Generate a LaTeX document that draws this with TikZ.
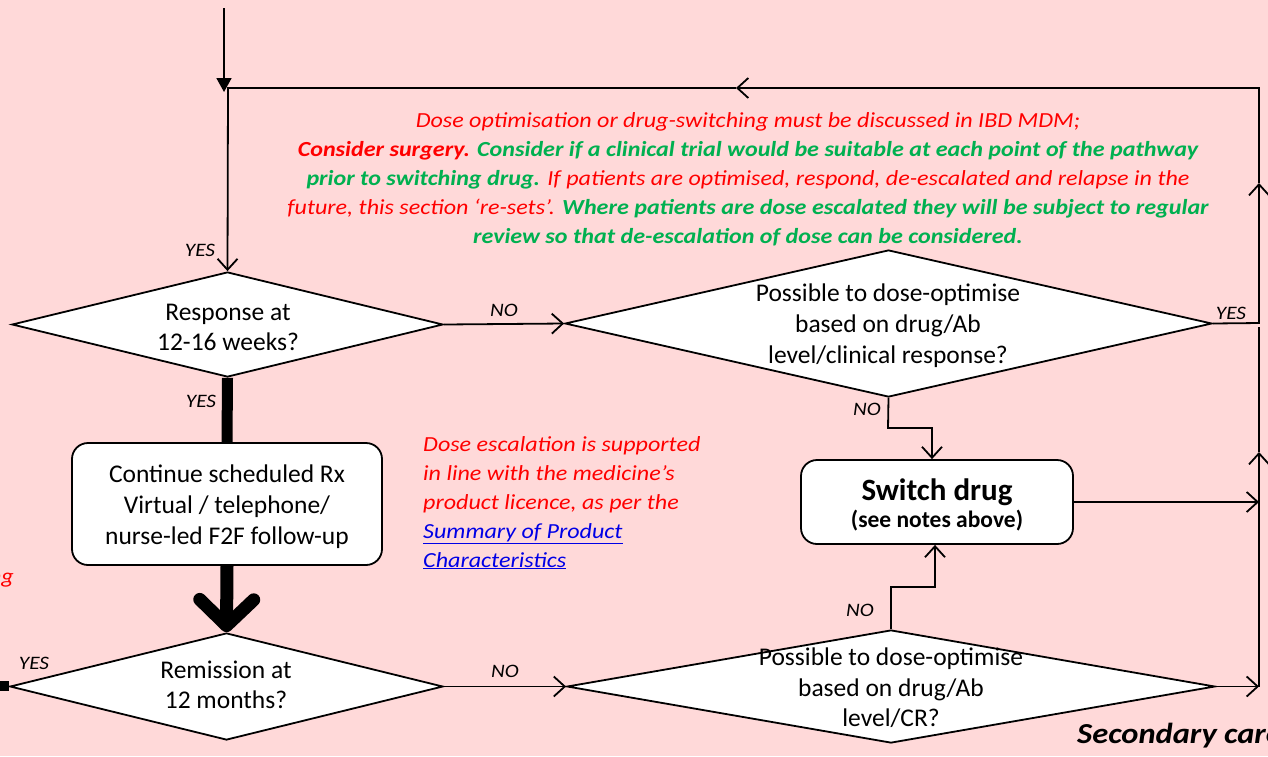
\documentclass[tikz,border=0pt]{standalone}
\usepackage{fontspec}
\setmainfont{Carlito}
\newfontfamily\widefont{Carlito}[FakeStretch=1.12]
\usetikzlibrary{shapes.geometric,arrows.meta}
\definecolor{bgpink}{RGB}{255,217,217}
\definecolor{notered}{RGB}{255,0,0}
\definecolor{notegreen}{RGB}{0,176,80}
\definecolor{linkblue}{RGB}{0,0,230}

\begin{document}
\begin{tikzpicture}[x=1pt,y=-1pt,
  flow/.style={line width=1.8pt},
  arr/.style={flow,-{Straight Barb[length=11pt,width=20pt]}},
  decision/.style={diamond,draw,fill=white,line width=1.8pt,inner sep=0pt},
  stepbox/.style={draw,fill=white,rounded corners=16pt,line width=1.8pt},
  btext/.style={align=center,inner sep=0pt,font=\fontsize{25.5}{30}\selectfont},
  yn/.style={inner sep=0pt,font=\widefont\fontsize{19}{22}\selectfont\itshape},
  note/.style={inner sep=0pt,font=\widefont\fontsize{21.5}{29}\selectfont\itshape}]

% page
\fill[bgpink] (0,0) rectangle (1268,756);
\useasboundingbox (0,0) rectangle (1268,756);

% decisions
\node[decision,minimum width=431pt,minimum height=105pt] (d1) at (227.5,324.5) {};
\node[decision,minimum width=647pt,minimum height=147pt] (d2) at (888.5,323.5) {};
\node[decision,minimum width=648pt,minimum height=113pt] (d3) at (891,686.5) {};
\node[decision,minimum width=433pt,minimum height=107pt] (d4) at (226.5,686.5) {};

\node[btext] (t1) at (228,327) {Response at\\12-16 weeks?};
\node[btext,font=\fontsize{25.5}{31}\selectfont] (t2) at (888,326) {Possible to dose-optimise\\based on drug/Ab\\level/clinical response?};
\node[btext,font=\fontsize{25.5}{30.5}\selectfont] (t3) at (891,688) {Possible to dose-optimise\\based on drug/Ab\\level/CR?};
\node[btext] (t4) at (226,685) {Remission at\\12 months?};

% boxes
\node[stepbox,minimum width=310pt,minimum height=122pt] (rx) at (227,504) {};
\node[btext,font=\fontsize{25.5}{31}\selectfont] (trx) at (227,507) {Continue scheduled Rx\\Virtual / telephone/\\nurse-led F2F follow-up};
\node[stepbox,minimum width=272pt,minimum height=84pt] (sw) at (937,502) {};
\node[align=center,inner sep=0pt] (tsw) at (937,505)
  {{\fontsize{31}{34}\selectfont\bfseries Switch drug}\\[4pt]{\fontsize{23.5}{26}\selectfont\bfseries (see notes above)}};

% entry from above and the re-set loop
\coordinate (top) at (224,8);
\coordinate (topin) at (224,92);
\draw[flow,-{Triangle[length=14pt,width=15pt]}] (top) -- (topin);

\coordinate (r1) at (1259,323);
\coordinate (rup) at (1259,183);
\coordinate (r2) at (1259,88);
\coordinate (lmid) at (736,88);
\coordinate (l2) at (228,88);
\draw[arr] (d2.east) -- (r1) -- (rup);
\draw[arr] (rup) -- (r2) -- (lmid);
\draw[arr] (lmid) -- (l2) -- (d1.north);

% response -> optimise
\draw[arr] (d1.east) -- node[yn,above=6pt] (no1) {NO} (d2.west);

% response -> continue -> remission
\draw[line width=11pt] (d1.south) -- (rx.north);
\node[yn] (yes2) at (201,401) {YES};
\draw[line width=13pt,-{Straight Barb[length=26pt,width=54pt,round]}] (rx.south) -- (d4.north);

% optimise (NO) -> switch drug
\coordinate (a1) at (888,428);
\coordinate (a2) at (932,428);
\draw[arr] (d2.south) -- (a1) -- (a2) -- (a2 |- sw.north);
\node[yn] (no2) at (867,409) {NO};

% remission -> optimise
\draw[arr] (d4.east) -- node[yn,above=8pt] (no3) {NO} (d3.west);

% optimise (NO) -> switch drug
\coordinate (b1) at (891,587);
\coordinate (b2) at (935,587);
\draw[arr] (d3.north) -- (b1) -- (b2) -- (b2 |- sw.south);
\node[yn] (no4) at (860,610) {NO};

% right-hand return line
\coordinate (swr) at (1259,502);
\coordinate (d3r) at (1259,686.5);
\coordinate (rup2) at (1259,452);
\coordinate (rtop2) at (1259,327);
\draw[arr] (sw.east) -- (swr);
\draw[arr] (d3.east) -- (d3r);
\draw[arr] (d3r) -- (rup2);
\draw[flow] (rup2) -- (rtop2);

% yes labels
\node[yn] (yes1) at (200,250) {YES};
\node[yn] (yes3) at (1231,313) {YES};
\node[yn] (yes4) at (34,663) {YES};
\node[fill=black,minimum size=10pt,inner sep=0pt] (sq) at (4,686) {};
\draw[flow] (sq) -- (d4.west);

% notes
\node[note,align=center] (mdm) at (748,179) {%
  \textcolor{notered}{Dose optimisation or drug-switching must be discussed in IBD MDM;}\\
  \textcolor{notered}{\bfseries Consider surgery.} \textcolor{notegreen}{\bfseries Consider if a clinical trial would be suitable at each point of the pathway}\\
  \textcolor{notegreen}{\bfseries prior to switching drug.} \textcolor{notered}{If patients are optimised, respond, de-escalated and relapse in the}\\
  \textcolor{notered}{future, this section ‘re-sets’.} \textcolor{notegreen}{\bfseries Where patients are dose escalated they will be subject to regular}\\
  \textcolor{notegreen}{\bfseries review so that de-escalation of dose can be considered.}};

\node[note,align=left,anchor=north west] (esc) at (423,436) {%
  \textcolor{notered}{Dose escalation is supported}\\
  \textcolor{notered}{in line with the medicine’s}\\
  \textcolor{notered}{product licence, as per the}\\
  \textcolor{linkblue}{\underline{Summary of Product}}\\
  \textcolor{linkblue}{\underline{Characteristics}}};

\node[note,anchor=east,text=notered] (ng) at (14,580) {ng};
\node[inner sep=0pt,anchor=base west,font=\widefont\fontsize{29}{32}\selectfont\bfseries\itshape] (sec) at (1077,743) {Secondary care};
\end{tikzpicture}
\end{document}
